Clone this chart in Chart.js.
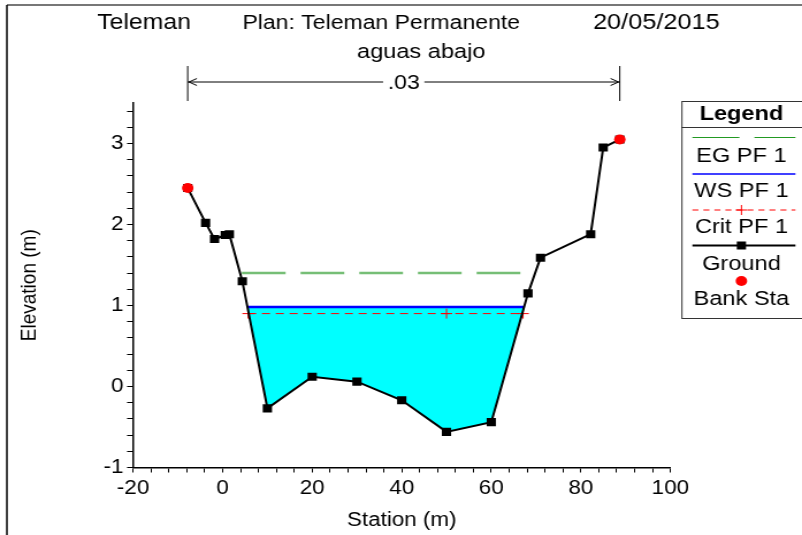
<!DOCTYPE html>
<html lang="es">
<head>
<meta charset="UTF-8">
<title>Teleman - aguas abajo</title>
<script src="https://cdn.jsdelivr.net/npm/chart.js"></script>
<style>
  html, body { margin: 0; padding: 0; background: #fff; overflow: hidden; }
  #wrap { transform-origin: 0 0; }
  canvas { display: block; }
</style>
</head>
<body>
<div id="wrap"><canvas id="myChart"></canvas></div>
<script>
// seccion transversal (Station m / Elevation m)
const groundStation = [-7.8, -3.8, -1.8, 0.6, 1.5, 4.4, 10, 20, 30, 40, 50, 60, 68.2, 71.0, 82.2, 85.0, 88.7];
const groundElev    = [2.45, 2.02, 1.82, 1.87, 1.88, 1.30, -0.27, 0.12, 0.06, -0.17, -0.56, -0.44, 1.15, 1.59, 1.88, 2.95, 3.05];
const bankStation = [-7.8, 88.7];
const bankElev    = [2.45, 3.05];
const wsStation   = [5.6, 67.3];
const wsElev      = [0.98, 0.98];
const critStation = [5.7, 50, 67.1];
const critElev    = [0.90, 0.90, 0.90];
const egStation   = [4.3, 69.1];
const egElev      = [1.40, 1.40];
const manningN = '.03';

const titleParts = ['Teleman', 'Plan: Teleman Permanente', '20/05/2015'];
const subTitle = 'aguas abajo';
const legendLabels = ['EG PF 1', 'WS PF 1', 'Crit PF 1', 'Ground', 'Bank Sta'];
const xRange = [-20, 100], xMinor = 4, xMajor = 20;
const yRange = [-1, 3.5], yMinor = 0.2, yMajor = 1;

// the original picture is a little wider than tall text would be
const S = 1.15;
const W = Math.round(802 / S), H = 535;
const canvas = document.getElementById('myChart');
canvas.width = W; canvas.height = H;
document.getElementById('wrap').style.transform = `scaleX(${802 / W})`;

const FONT = '"Liberation Sans", Arial, sans-serif';
const font = (size, bold) => `${bold ? 'bold ' : ''}${size}px ${FONT}`;

const pts = (xs, ys) => xs.map((v, i) => ({ x: v, y: ys[i] }));

// water polygon: WS edges + ground points under the surface
const water = [{ x: wsStation[0], y: wsElev[0] }];
groundStation.forEach((s, i) => {
    if (s > wsStation[0] && s < wsStation[1]) water.push({ x: s, y: groundElev[i] });
});
water.push({ x: wsStation[1], y: wsElev[1] });

const isMajor = (v, step) => Math.abs(v / step - Math.round(v / step)) < 1e-6;

const decor = {
    id: 'decor',
    afterDraw(chart) {
        const { ctx, scales: { x } } = chart;
        ctx.save();

        // marco
        ctx.strokeStyle = '#777';
        ctx.lineWidth = 2;
        ctx.beginPath(); ctx.moveTo(6, 5); ctx.lineTo(W, 5); ctx.stroke();
        ctx.strokeStyle = '#000';
        ctx.lineWidth = 1.5;
        ctx.beginPath(); ctx.moveTo(6, 5); ctx.lineTo(6, H); ctx.stroke();

        // titulos
        ctx.fillStyle = '#000';
        ctx.textAlign = 'center';
        ctx.textBaseline = 'middle';
        [21.5, 20, 22].forEach((sz, i) => {
            ctx.font = font(sz);
            ctx.fillText(titleParts[i], [144, 381, 656][i] / S, 23);
        });
        ctx.font = font(20.5);
        ctx.fillText(subTitle, 421 / S, 52);

        // n de Manning entre bancos
        const xl = x.getPixelForValue(bankStation[0]);
        const xr = x.getPixelForValue(bankStation[1]);
        const xm = (xl + xr) / 2;
        ctx.font = font(20);
        const half = ctx.measureText(manningN).width / 2 + 4;
        ctx.lineWidth = 1;
        ctx.beginPath();
        ctx.moveTo(xl, 66); ctx.lineTo(xl, 101);
        ctx.moveTo(xr, 66); ctx.lineTo(xr, 101);
        ctx.moveTo(xl, 82); ctx.lineTo(xm - half, 82);
        ctx.moveTo(xm + half, 82); ctx.lineTo(xr, 82);
        ctx.moveTo(xl + 8, 78.5); ctx.lineTo(xl + 1, 82); ctx.lineTo(xl + 8, 85.5);
        ctx.moveTo(xr - 8, 78.5); ctx.lineTo(xr - 1, 82); ctx.lineTo(xr - 8, 85.5);
        ctx.stroke();
        ctx.fillText(manningN, xm, 83);

        // leyenda
        const lx0 = 681 / S, lx1 = W + 4, cx = 741 / S, sx0 = 692 / S, sx1 = 795 / S;
        ctx.strokeStyle = '#333';
        ctx.strokeRect(lx0 + 0.5, 101.5, lx1 - lx0, 217);
        ctx.beginPath(); ctx.moveTo(lx0, 127.5); ctx.lineTo(lx1, 127.5); ctx.stroke();
        ctx.font = font(20.5, true);
        ctx.fillText('Legend', cx, 114);

        const lineY = [137.5, 174, 210, 245.5, 281];
        const textY = [156, 191, 227, 264, 299];

        ctx.strokeStyle = '#229922';
        ctx.setLineDash([47 / S, 15 / S]);
        ctx.beginPath(); ctx.moveTo(sx0, lineY[0]); ctx.lineTo(sx1, lineY[0]); ctx.stroke();

        ctx.setLineDash([]);
        ctx.strokeStyle = '#0000ff';
        ctx.lineWidth = 1.5;
        ctx.beginPath(); ctx.moveTo(sx0, lineY[1]); ctx.lineTo(sx1, lineY[1]); ctx.stroke();

        ctx.strokeStyle = '#ff0000';
        ctx.lineWidth = 1;
        ctx.setLineDash([6 / S, 5 / S]);
        ctx.beginPath(); ctx.moveTo(sx0, lineY[2]); ctx.lineTo(sx1, lineY[2]); ctx.stroke();
        ctx.setLineDash([]);
        ctx.beginPath();
        ctx.moveTo(cx - 5, lineY[2]); ctx.lineTo(cx + 5, lineY[2]);
        ctx.moveTo(cx, lineY[2] - 5); ctx.lineTo(cx, lineY[2] + 5);
        ctx.stroke();

        ctx.strokeStyle = '#000';
        ctx.lineWidth = 2;
        ctx.beginPath(); ctx.moveTo(sx0, lineY[3]); ctx.lineTo(sx1, lineY[3]); ctx.stroke();
        ctx.fillStyle = '#000';
        ctx.fillRect(cx - 4, lineY[3] - 4, 8, 8);

        ctx.fillStyle = '#ff0000';
        ctx.beginPath(); ctx.arc(cx, lineY[4], 5, 0, Math.PI * 2); ctx.fill();

        ctx.fillStyle = '#000';
        ctx.font = font(20.5);
        legendLabels.forEach((t, i) => ctx.fillText(t, cx, textY[i]));

        ctx.restore();
    }
};

const ctx = canvas.getContext('2d');
const chart = new Chart(ctx, {
    type: 'line',
    data: {
        datasets: [
            {
                label: 'Water',
                data: water,
                fill: 'shape',
                backgroundColor: '#00ffff',
                borderWidth: 0,
                pointRadius: 0,
                order: 6
            },
            {
                label: legendLabels[0],
                data: pts(egStation, egElev),
                borderColor: 'rgb(118, 190, 118)',
                borderWidth: 2.5,
                borderDash: [38, 13],
                pointRadius: 0,
                fill: false,
                order: 5
            },
            {
                label: legendLabels[1],
                data: pts(wsStation, wsElev),
                borderColor: '#0000ff',
                borderWidth: 2.5,
                pointRadius: 0,
                fill: false,
                order: 4
            },
            {
                label: legendLabels[2],
                data: pts(critStation, critElev),
                borderColor: '#ff0000',
                borderWidth: 1,
                borderDash: [7, 5],
                pointStyle: 'cross',
                pointRadius: 5,
                pointBorderColor: '#ff0000',
                pointBorderWidth: 1,
                fill: false,
                order: 3
            },
            {
                label: legendLabels[3],
                data: pts(groundStation, groundElev),
                borderColor: '#000',
                borderWidth: 2,
                pointStyle: 'rect',
                pointRadius: 5.7,
                pointBackgroundColor: '#000',
                pointBorderWidth: 0,
                fill: false,
                order: 2
            },
            {
                label: legendLabels[4],
                data: pts(bankStation, bankElev),
                showLine: false,
                pointStyle: 'circle',
                pointRadius: 5,
                pointBackgroundColor: '#ff0000',
                pointBorderColor: '#ff0000',
                pointBorderWidth: 0,
                order: 1
            }
        ]
    },
    options: {
        responsive: false,
        animation: false,
        devicePixelRatio: 1,
        layout: { padding: { top: 103, right: W - 670 / S, left: 0, bottom: 0 } },
        plugins: { legend: { display: false }, tooltip: { enabled: false } },
        scales: {
            x: {
                type: 'linear',
                min: xRange[0],
                max: xRange[1],
                afterFit: (s) => { s.height = H - 467.5; },
                border: { display: true, color: '#000', width: 1.5 },
                grid: { drawOnChartArea: false, drawTicks: true, tickLength: 5, color: '#000' },
                ticks: {
                    stepSize: xMinor,
                    autoSkip: false,
                    maxRotation: 0,
                    padding: 4,
                    color: '#000',
                    font: { family: FONT, size: 19.5 },
                    callback: (v) => isMajor(v, xMajor) ? String(Math.round(v)) : ''
                },
                title: {
                    display: true,
                    text: 'Station (m)',
                    color: '#000',
                    font: { family: FONT, size: 19.5 },
                    padding: { top: 0, bottom: 3 }
                }
            },
            y: {
                min: yRange[0],
                max: yRange[1],
                afterFit: (s) => { s.width = 133 / S; },
                border: { display: true, color: '#000', width: 1.5 },
                grid: { drawOnChartArea: false, drawTicks: true, tickLength: 6 / S, color: '#000' },
                ticks: {
                    stepSize: yMinor,
                    includeBounds: false,
                    autoSkip: false,
                    padding: 3,
                    color: '#000',
                    font: { family: FONT, size: 19.5 },
                    callback: (v) => isMajor(v, yMajor) ? String(Math.round(v)) : ''
                },
                title: {
                    display: true,
                    text: 'Elevation (m)',
                    color: '#000',
                    font: { family: FONT, size: 19 },
                    padding: { top: 14, bottom: 0 }
                }
            }
        }
    },
    plugins: [decor]
});
</script>
</body>
</html>
